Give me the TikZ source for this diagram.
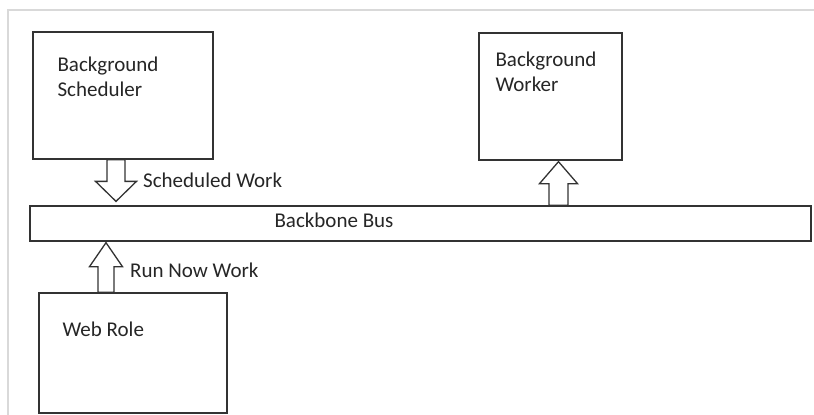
\documentclass[tikz,border=0pt]{standalone}
\usepackage{fontspec}
\setmainfont{Carlito}
\usetikzlibrary{calc}
\begin{document}
\begin{tikzpicture}[x=1pt,y=-1pt,
  box/.style={draw=black!80,line width=1.3pt,rectangle,inner sep=0pt,fill=white},
  lbl/.style={anchor=base west,inner sep=0pt,text=black!85,font=\fontsize{21}{25}\selectfont,align=left},
  blockarrow/.style={draw=black!80,line width=1.3pt,fill=white,line join=miter},
  frame/.style={draw=black!15,line width=2pt}]
\useasboundingbox (0,0) rectangle (814,415);
\fill[white] (0,0) rectangle (814,415);
\draw[frame] (8,415) -- (8,9.5) -- (814,9.5);

% boxes
\node[box,minimum width=180,minimum height=127] (sched) at (123,95.5) {};
\node[box,minimum width=143,minimum height=127] (worker) at (550.5,96.5) {};
\node[box,minimum width=781,minimum height=35] (bus) at (420.5,223.5) {};
\node[box,minimum width=188,minimum height=120] (web) at (133,353) {};

% box texts
\node[lbl] (schedtxt) at ($(sched.north west)+(25,65)$) {Background\\Scheduler};
\node[lbl] (workertxt) at ($(worker.north west)+(17,59)$) {Background\\Worker};
\node[lbl] (bustxt) at ($(bus.west)+(245,3.5)$) {Backbone Bus};
\node[lbl] (webtxt) at ($(web.north west)+(24,44)$) {Web Role};

% arrow 1: scheduler -> bus (down)
\coordinate (a1s) at ($(sched.south)+(-7,0)$);
\coordinate (a1t) at ($(a1s |- bus.north)+(0,-4)$);
\draw[blockarrow] ($(a1s)+(-9,0)$) -- ($(a1t)+(-9,-20)$) -- ($(a1t)+(-20.5,-20)$) -- (a1t)
  -- ($(a1t)+(20.5,-20)$) -- ($(a1t)+(9,-20)$) -- ($(a1s)+(9,0)$) -- cycle;
\node[lbl] (a1lbl) at ($(a1t)+(27,-14)$) {Scheduled Work};

% arrow 2: bus -> worker (up)
\coordinate (a2t) at ($(worker.south)+(8,1)$);
\coordinate (a2s) at (a2t |- bus.north);
\draw[blockarrow] ($(a2s)+(-9.5,0)$) -- ($(a2t)+(-9.5,22)$) -- ($(a2t)+(-19,22)$) -- (a2t)
  -- ($(a2t)+(19,22)$) -- ($(a2t)+(9.5,22)$) -- ($(a2s)+(9.5,0)$) -- cycle;

% arrow 3: web role -> bus (up)
\coordinate (a3s) at ($(web.north)+(-27,0)$);
\coordinate (a3t) at ($(a3s |- bus.south)+(0,1)$);
\draw[blockarrow] ($(a3s)+(-8,0)$) -- ($(a3t)+(-8,24)$) -- ($(a3t)+(-16.5,24)$) -- (a3t)
  -- ($(a3t)+(16.5,24)$) -- ($(a3t)+(8,24)$) -- ($(a3s)+(8,0)$) -- cycle;
\node[lbl] (a3lbl) at ($(a3t)+(24,35)$) {Run Now Work};
\end{tikzpicture}
\end{document}
